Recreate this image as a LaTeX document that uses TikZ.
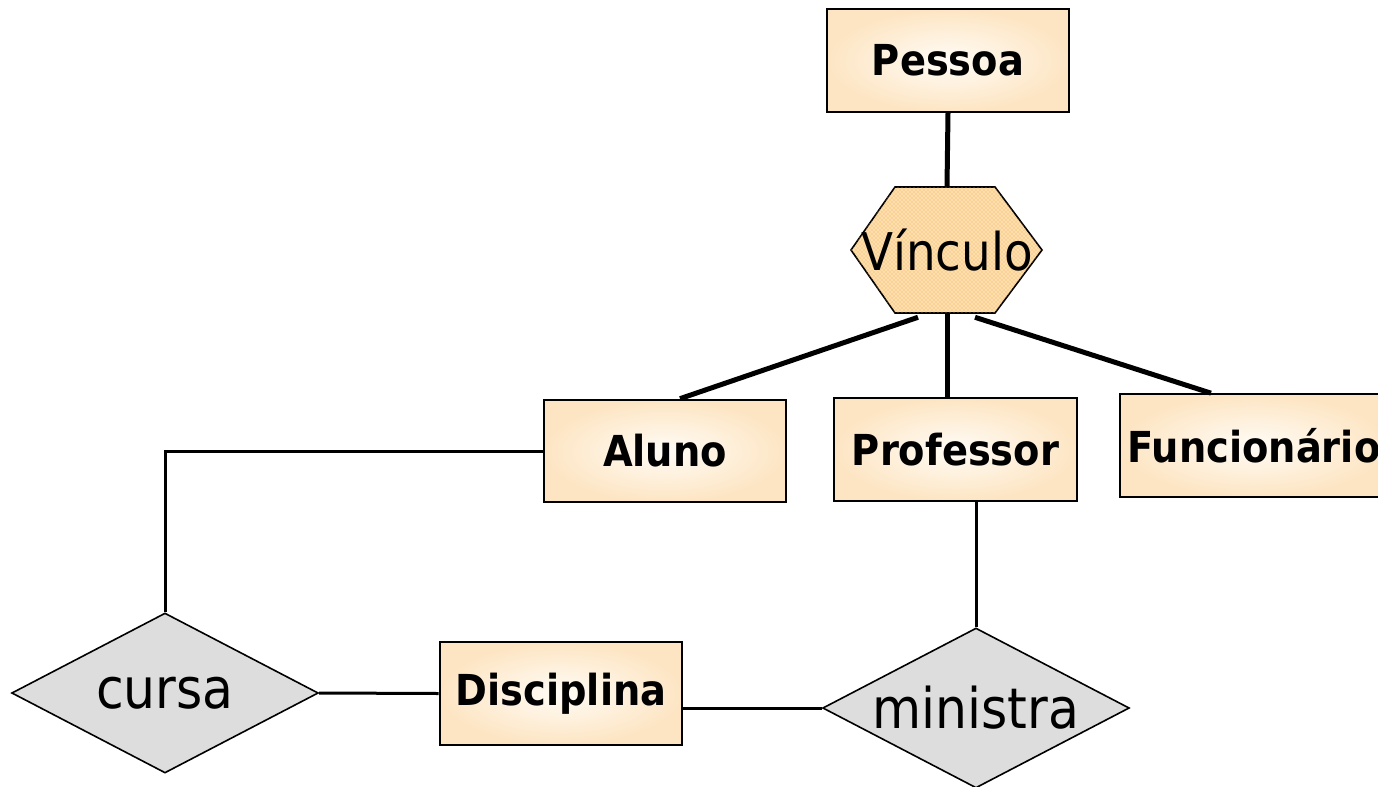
\documentclass[tikz,border=0pt]{standalone}
\usepackage{fontspec}
\setmainfont{DejaVu Sans Condensed}
\usepackage{xcolor}
\usepackage{tikz}
\usetikzlibrary{calc}
\usetikzlibrary{patterns}
\usetikzlibrary{shapes.geometric}

\definecolor{peach}{RGB}{253,229,195}
\definecolor{cream}{RGB}{255,252,246}
\definecolor{relgray}{RGB}{221,221,221}
\definecolor{hexfill}{RGB}{252,222,175}
\definecolor{hexdot}{RGB}{246,172,70}

\begin{document}
\begin{tikzpicture}[x=0.75pt,y=-0.75pt,-]
  \tikzstyle{ent}=[draw, line width=1.5pt, inner sep=0pt, minimum width=182pt, minimum height=77pt, inner color=cream, outer color=peach, font=\bfseries\fontsize{32}{32}\selectfont]
  \tikzstyle{rel}=[draw, diamond, aspect=1.9, line width=1.2pt, inner sep=0pt, fill=relgray, minimum width=230pt, minimum height=120pt, font=\fontsize{42}{42}\selectfont]
  \tikzstyle{thick link}=[line width=3.75pt]
  \tikzstyle{thin link}=[line width=2.25pt]
  \useasboundingbox (0,0) rectangle (1378,786);
  \clip (0,0) rectangle (1378,786);

  % hexagon behind the label
  \filldraw[fill=hexfill, postaction={pattern=crosshatch dots, pattern color=hexdot}, line width=1.2pt]
    (895,187) -- (995,187) -- (1042,250) -- (995,313) -- (895,313) -- (851,250) -- cycle;

  \node[ent] (pessoa)      at (948,60.5)   {Pessoa};
  \node[inner sep=0pt, minimum width=143pt, minimum height=94.5pt, font=\fontsize{39}{39}\selectfont]
                 (vinculo)     at (947,250)    {Vínculo};
  \node[ent] (aluno)       at (665,451)    {Aluno};
  \node[ent] (professor)   at (955.5,449.5) {Professor};
  \node[ent, minimum width=201pt] (funcionario) at (1254,445.5) {Funcionário};
  \node[ent] (disciplina)  at (561,693.5)  {Disciplina};
  \node[rel] (cursa)       at (165,693)    {cursa};
  \node[rel] (ministra)    at (976,708)    {ministra};

  \draw[thick link] (pessoa.south) -- (vinculo.north);
  \draw[thick link] ($(vinculo.south)+(-29,4)$) -- ($(aluno.north)+(15,0)$);
  \draw[thick link] (vinculo.south) -- (vinculo.south |- professor.north);
  \draw[thick link] ($(vinculo.south)+(28,4)$) -- ($(funcionario.north west)+(92,0)$);

  \draw[thin link] (aluno.west) -| (cursa.north);
  \draw[thin link] (ministra.north |- professor.south) -- (ministra.north);
  \draw[thin link] (cursa.east) -- (disciplina.west);
  \draw[thin link] (disciplina.east |- ministra.west) -- (ministra.west);
\end{tikzpicture}
\end{document}
